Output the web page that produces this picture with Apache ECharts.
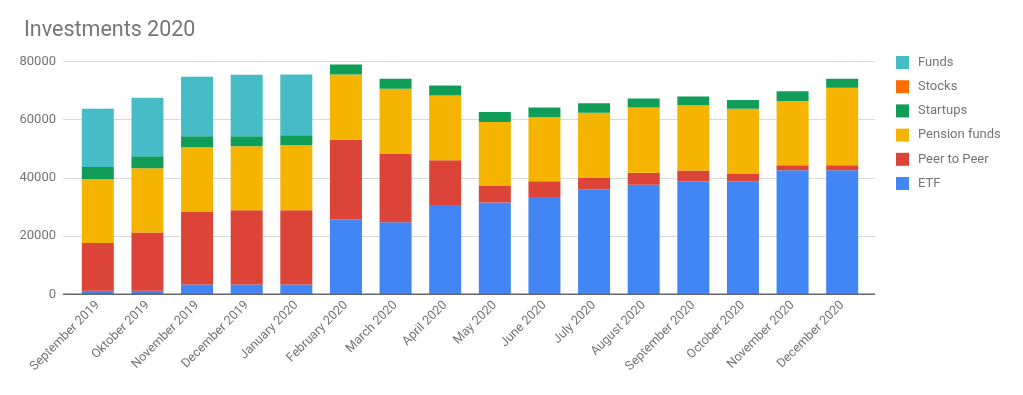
<!DOCTYPE html>
<html>
<head>
<meta charset="utf-8">
<script src="https://cdn.jsdelivr.net/npm/echarts@6/dist/echarts.min.js"></script>
<style>
html,body{margin:0;padding:0;background:#fff;}
#chart{width:1023px;height:395px;}
</style>
</head>
<body>
<div id="chart"></div>
<script>
const categories = ["September 2019","Oktober 2019","November 2019","December 2019","January 2020","February 2020","March 2020","April 2020","May 2020","June 2020","July 2020","August 2020","September 2020","October 2020","November 2020","December 2020"];
const etf       = [1200,1200,3400,3400,3400,25800,24700,30700,31500,33400,36100,37600,38700,38700,42600,42600];
const peer      = [16400,20050,25050,25500,25500,27300,23500,15300,5700,5400,3800,4100,3800,2600,1700,1700];
const pension   = [21900,22050,22050,21950,22300,22400,22400,22300,21950,21950,22400,22400,22400,22400,22100,26600];
const startups  = [4200,4100,3770,3430,3430,3430,3430,3430,3430,3430,3300,3100,3000,3000,3300,3100];
const stocks    = [0,0,0,0,0,0,0,0,0,0,0,0,0,0,0,0];
const funds     = [20000,20100,20460,21140,20800,0,0,0,0,0,0,0,0,0,0,0];
const yTicks    = [0,20000,40000,60000,80000];

const chart = echarts.init(document.getElementById('chart'));
function mk(name, arr, color){
  return {
    name: name, type: 'bar', stack: 'total', barWidth: 32,
    xAxisIndex: 1, yAxisIndex: 1,
    itemStyle: {color: color},
    emphasis: {disabled: true},
    data: arr
  };
}
chart.setOption({
  animation: false,
  textStyle: {fontFamily: 'Roboto'},
  title: {
    text: 'Investments 2020', left: 19, top: 15,
    textStyle: {fontFamily: 'Roboto', fontSize: 21.5, fontWeight: 'normal', color: '#757575'}
  },
  legend: {
    orient: 'vertical', left: 891, top: 51, itemGap: 11.2, itemWidth: 13, itemHeight: 13,
    icon: 'rect',
    textStyle: {fontFamily: 'Roboto', fontSize: 13, color: '#757575', padding: [0,0,0,4]},
    data: ['Funds','Stocks','Startups','Pension funds','Peer to Peer','ETF']
  },
  grid: [
    {left: 63, right: 148, top: 61.3, bottom: 100.7, containLabel: false},
    {left: 73, right: 156, top: 61.3, bottom: 100.7, containLabel: false}
  ],
  xAxis: [
    {
      gridIndex: 0, type: 'value', min: 0, max: 1,
      axisLine: {show: false}, axisTick: {show: false},
      splitLine: {show: false}, axisLabel: {show: false}
    },
    {
      gridIndex: 1, type: 'category', data: categories,
      axisLine: {show: false},
      axisTick: {show: false},
      axisLabel: {
        interval: 0, rotate: 45, margin: 9,
        fontFamily: 'Roboto', fontSize: 12.6, color: '#757575'
      }
    }
  ],
  yAxis: [
    {
      gridIndex: 0, type: 'value', min: 0, max: 80000, interval: 20000,
      axisLine: {show: false}, axisTick: {show: false},
      splitLine: {lineStyle: {color: '#d9d9d9', width: 1}},
      axisLabel: {
        margin: 7, fontFamily: 'Roboto', fontSize: 13, color: '#757575',
        formatter: v => String(v)
      }
    },
    {
      gridIndex: 1, type: 'value', min: 0, max: 80000, interval: 20000,
      show: false
    }
  ],
  series: [
    mk('ETF', etf, '#4285F4'),
    mk('Peer to Peer', peer, '#DB4437'),
    mk('Pension funds', pension, '#F4B400'),
    mk('Startups', startups, '#0F9D58'),
    mk('Stocks', stocks, '#FF6D01'),
    mk('Funds', funds, '#46BDC6'),
    {
      type: 'line', xAxisIndex: 0, yAxisIndex: 0, data: [[0,0],[1,0]],
      symbol: 'none', silent: true, z: 10,
      lineStyle: {color: '#666', width: 1.5}
    }
  ]
});
</script>
</body>
</html>
